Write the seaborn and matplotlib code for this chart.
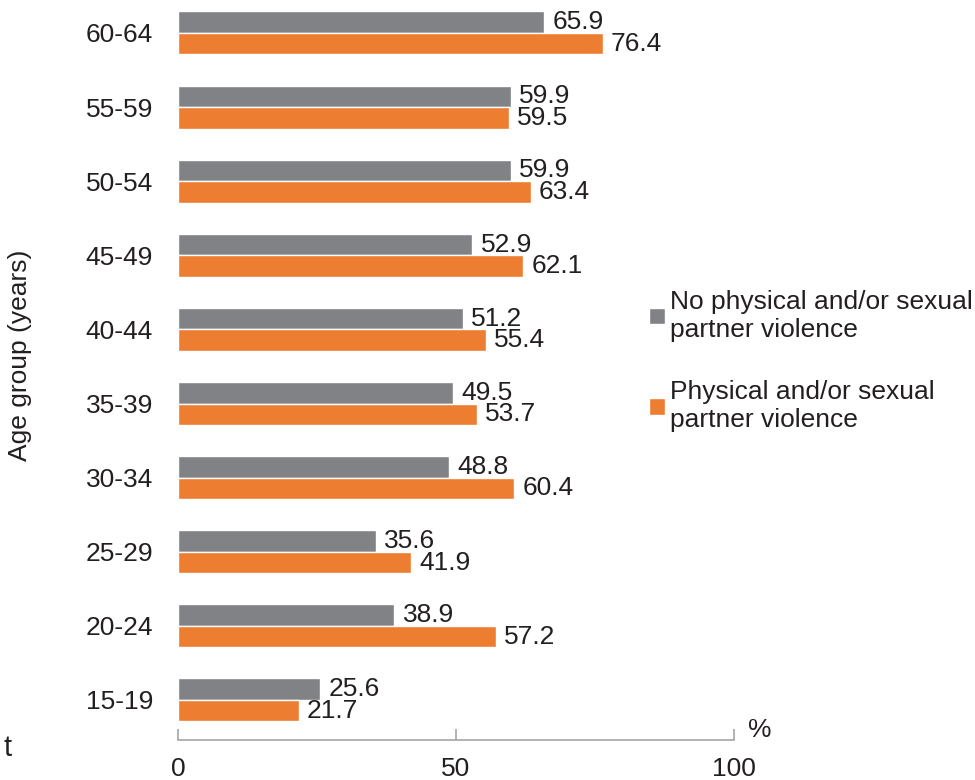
import matplotlib
matplotlib.use("Agg")
import matplotlib.pyplot as plt
import seaborn as sns
import pandas as pd

# Values
age_groups = ["60-64", "55-59", "50-54", "45-49", "40-44",
              "35-39", "30-34", "25-29", "20-24", "15-19"]
no_violence = [65.9, 59.9, 59.9, 52.9, 51.2, 49.5, 48.8, 35.6, 38.9, 25.6]
violence = [76.4, 59.5, 63.4, 62.1, 55.4, 53.7, 60.4, 41.9, 57.2, 21.7]
series_names = ["No physical and/or sexual\npartner violence",
                "Physical and/or sexual\npartner violence"]
colors = ["#818286", "#ED7D31"]

df = pd.DataFrame({
    "age": age_groups * 2,
    "value": no_violence + violence,
    "group": [series_names[0]] * len(age_groups) + [series_names[1]] * len(age_groups),
})

sns.set_theme(style="white")
plt.rcParams["font.family"] = ["Liberation Sans", "DejaVu Sans"]
text_color = "#231f20"
fs = 19

fig = plt.figure(figsize=(9.75, 7.8), dpi=100)
ax = fig.add_axes([178 / 975, 1 - 740 / 780, (734 - 178) / 975, 740 / 780])

sns.barplot(data=df, x="value", y="age", hue="group", order=age_groups,
            hue_order=series_names, palette=colors, orient="h",
            width=0.58, dodge=True, saturation=1, ax=ax, legend=True)

for cont in ax.containers:
    ax.bar_label(cont, fmt="%.1f", padding=6, fontsize=fs, color=text_color)

ax.set_xlim(0, 100)
ax.set_ylim(9.54, -0.445)
ax.set_xticks([0, 50, 100])
ax.set_xlabel("")
ax.set_ylabel("Age group (years)", fontsize=fs, color=text_color)
ax.yaxis.set_label_coords(-146 / 556, 0.52)

for side in ["top", "right", "left"]:
    ax.spines[side].set_visible(False)
ax.spines["bottom"].set_color("#a6a6a6")
ax.spines["bottom"].set_linewidth(1.2)
ax.tick_params(axis="x", direction="in", length=8, width=1.2, color="#a6a6a6",
               pad=12, labelsize=fs, labelcolor=text_color, bottom=True)
ax.tick_params(axis="y", length=0, pad=18, labelsize=fs, labelcolor=text_color)

handles, labels = ax.get_legend_handles_labels()
ax.legend_.remove()
fig.legend(handles, labels, loc="upper left", bbox_to_anchor=(649 / 975, 1 - 290 / 780),
           frameon=False, fontsize=fs, handlelength=0.6, handleheight=0.6,
           handletextpad=0.2, labelspacing=1.45, borderpad=0, borderaxespad=0,
           labelcolor=text_color)

fig.text(760 / 975, 1 - 730 / 780, "%", fontsize=fs, color=text_color,
         ha="center", va="center")
fig.text(8 / 975, 1 - 748 / 780, "t", fontsize=fs + 2, color=text_color,
         ha="center", va="center")

fig.savefig("out.png", dpi=100)
